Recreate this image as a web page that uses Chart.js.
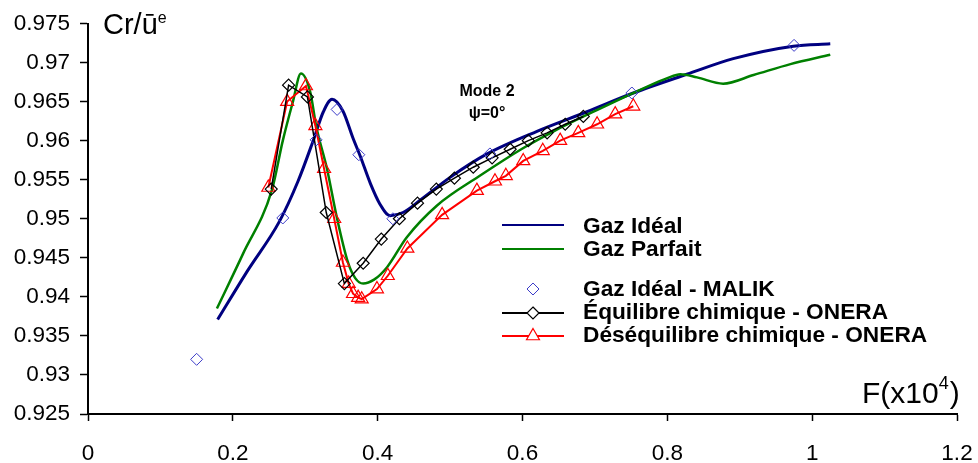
<!DOCTYPE html>
<html>
<head>
<meta charset="utf-8">
<title>Cr/ue vs F - Mode 2</title>
<script src="https://cdn.jsdelivr.net/npm/chart.js"></script>
<style>
  html, body { margin: 0; padding: 0; background: #fff; }
  #wrap { width: 978px; height: 463px; }
</style>
</head>
<body>
<div id="wrap"><canvas id="myChart"></canvas></div>
<script>
// Axis ticks
const xTicks = [0, 0.2, 0.4, 0.6, 0.8, 1, 1.2];
const xTickLabels = ['0', '0.2', '0.4', '0.6', '0.8', '1', '1.2'];
const yTicks = [0.925, 0.93, 0.935, 0.94, 0.945, 0.95, 0.955, 0.96, 0.965, 0.97, 0.975];
const yTickLabels = ['0.925', '0.93', '0.935', '0.94', '0.945', '0.95', '0.955', '0.96', '0.965', '0.97', '0.975'];

// Gaz Idéal (continuous curve)
const idealX = [0.179, 0.22, 0.264, 0.29, 0.311, 0.325, 0.337, 0.352, 0.366, 0.376, 0.39, 0.403, 0.417, 0.435, 0.459, 0.5, 0.551, 0.62, 0.689, 0.753, 0.827, 0.891, 0.974, 1.025];
const idealY = [0.9371, 0.9433, 0.9496, 0.9548, 0.9600, 0.9637, 0.9653, 0.9638, 0.9603, 0.9580, 0.9545, 0.9519, 0.9504, 0.9508, 0.9524, 0.9553, 0.9583, 0.9612, 0.9637, 0.9661, 0.9685, 0.9705, 0.9721, 0.9724];

// Gaz Parfait (continuous curve)
const parfaitX = [0.178, 0.214, 0.254, 0.269, 0.283, 0.294, 0.307, 0.315, 0.330, 0.344, 0.359, 0.369, 0.380, 0.395, 0.413, 0.440, 0.482, 0.541, 0.600, 0.643, 0.707, 0.767, 0.800, 0.818, 0.841, 0.877, 0.919, 0.970, 1.025];
const parfaitY = [0.9385, 0.9455, 0.9537, 0.9600, 0.9650, 0.9686, 0.9662, 0.9619, 0.9564, 0.9500, 0.9444, 0.9424, 0.9417, 0.9422, 0.9438, 0.9476, 0.9517, 0.9555, 0.9590, 0.9612, 0.9641, 0.9667, 0.9680, 0.9685, 0.9681, 0.9673, 0.9684, 0.9698, 0.9710];

// Gaz Idéal - MALIK (markers only)
const malikX = [0.150, 0.269, 0.315, 0.344, 0.374, 0.421, 0.555, 0.751, 0.975];
const malikY = [0.9320, 0.9501, 0.9601, 0.9640, 0.9582, 0.9500, 0.9583, 0.9661, 0.9722];

// Équilibre chimique - ONERA
const equiX = [0.253, 0.277, 0.303, 0.329, 0.354, 0.380, 0.405, 0.430, 0.455, 0.481, 0.506, 0.532, 0.558, 0.583, 0.608, 0.634, 0.659, 0.684];
const equiY = [0.9538, 0.9671, 0.9656, 0.9508, 0.9417, 0.9443, 0.9474, 0.9500, 0.9520, 0.9538, 0.9552, 0.9566, 0.9578, 0.9589, 0.9600, 0.9610, 0.9621, 0.9631];

// Déséquilibre chimique - ONERA
const deseqX = [0.249, 0.275, 0.301, 0.314, 0.326, 0.340, 0.352, 0.360, 0.366, 0.373, 0.378, 0.399, 0.414, 0.441, 0.489, 0.537, 0.562, 0.577, 0.601, 0.628, 0.652, 0.677, 0.703, 0.728, 0.753];
const deseqY = [0.9540, 0.9650, 0.9670, 0.9619, 0.9564, 0.9500, 0.9444, 0.9417, 0.9404, 0.9399, 0.9397, 0.9410, 0.9427, 0.9462, 0.9505, 0.9536, 0.9548, 0.9555, 0.9574, 0.9587, 0.9600, 0.9610, 0.9621, 0.9634, 0.9644];

const pts = (xs, ys) => xs.map((x, i) => ({ x: x, y: ys[i] }));
const FONT = '"Liberation Sans", Arial, sans-serif';

function drawMarker(ctx, style, x, y, r, color, lw) {
  ctx.save();
  ctx.strokeStyle = color;
  ctx.lineWidth = lw;
  ctx.beginPath();
  if (style === 'rectRot') {
    ctx.moveTo(x, y - r); ctx.lineTo(x + r, y); ctx.lineTo(x, y + r); ctx.lineTo(x - r, y);
  } else {
    ctx.moveTo(x, y - r);
    ctx.lineTo(x + r * 0.866, y + r / 2);
    ctx.lineTo(x - r * 0.866, y + r / 2);
  }
  ctx.closePath();
  ctx.fillStyle = '#fff';
  ctx.fill();
  ctx.stroke();
  ctx.restore();
}

const extras = {
  id: 'extras',
  afterDraw(chart) {
    const ctx = chart.ctx;
    ctx.save();
    ctx.fillStyle = '#000';
    ctx.textBaseline = 'alphabetic';
    ctx.textAlign = 'left';

    // y title
    ctx.font = '29px ' + FONT;
    ctx.fillText('Cr/ū', 103, 34);
    let w = ctx.measureText('Cr/ū').width;
    ctx.font = '16px ' + FONT;
    ctx.fillText('e', 103 + w, 23);

    // x title
    ctx.font = '30px ' + FONT;
    ctx.fillText('F(x10', 862, 403);
    w = ctx.measureText('F(x10').width;
    ctx.font = '18px ' + FONT;
    ctx.fillText('4', 862 + w, 389);
    const w4 = ctx.measureText('4').width;
    ctx.font = '30px ' + FONT;
    ctx.fillText(')', 862 + w + w4 + 1, 403);

    // annotation
    ctx.font = 'bold 16px ' + FONT;
    ctx.textAlign = 'center';
    ctx.fillText('Mode 2', 487, 96);
    ctx.fillText('ψ=0°', 487, 118);

    // legend
    ctx.textAlign = 'left';
    ctx.font = 'bold 22.7px ' + FONT;
    const rows = [
      { ds: 1, base: 233, sy: 225 },
      { ds: 0, base: 256, sy: 249 },
      { ds: 2, base: 296, sy: 289 },
      { ds: 3, base: 319, sy: 313 },
      { ds: 4, base: 342, sy: 336 }
    ];
    rows.forEach(r => {
      const d = chart.data.datasets[r.ds];
      if (d.showLine) {
        ctx.strokeStyle = d.borderColor;
        ctx.lineWidth = 2;
        ctx.beginPath();
        ctx.moveTo(502, r.sy);
        ctx.lineTo(564, r.sy);
        ctx.stroke();
      }
      if (d.pointRadius > 0) {
        drawMarker(ctx, d.pointStyle, 533, r.sy, d.pointRadius, d.pointBorderColor, d.pointBorderWidth);
      }
      ctx.fillStyle = '#000';
      ctx.fillText(d.label, 583, r.base);
    });
    ctx.restore();
  }
};

const ctx = document.getElementById('myChart').getContext('2d');
new Chart(ctx, {
  type: 'scatter',
  data: {
    datasets: [
      {
        label: 'Gaz Parfait',
        data: pts(parfaitX, parfaitY),
        showLine: true,
        borderColor: '#008000',
        borderWidth: 2.5,
        pointRadius: 0,
        cubicInterpolationMode: 'monotone',
        order: 4
      },
      {
        label: 'Gaz Idéal',
        data: pts(idealX, idealY),
        showLine: true,
        borderColor: '#000080',
        borderWidth: 3,
        pointRadius: 0,
        cubicInterpolationMode: 'monotone',
        order: 5
      },
      {
        label: 'Gaz Idéal - MALIK',
        data: pts(malikX, malikY),
        showLine: false,
        pointStyle: 'rectRot',
        pointRadius: 6,
        pointBorderColor: '#3c3cc8',
        pointBackgroundColor: 'rgba(0,0,0,0)',
        pointBorderWidth: 1,
        borderColor: '#3c3cc8',
        order: 1
      },
      {
        label: 'Équilibre chimique - ONERA',
        data: pts(equiX, equiY),
        showLine: true,
        borderColor: '#000',
        borderWidth: 1.5,
        pointStyle: 'rectRot',
        pointRadius: 6,
        pointBorderColor: '#000',
        pointBackgroundColor: 'rgba(0,0,0,0)',
        pointBorderWidth: 1.2,
        tension: 0,
        order: 2
      },
      {
        label: 'Déséquilibre chimique - ONERA',
        data: pts(deseqX, deseqY),
        showLine: true,
        borderColor: '#ff0000',
        borderWidth: 2,
        pointStyle: 'triangle',
        pointRadius: 7.5,
        pointBorderColor: '#ff0000',
        pointBackgroundColor: 'rgba(0,0,0,0)',
        pointBorderWidth: 1.2,
        tension: 0,
        order: 3
      }
    ]
  },
  options: {
    responsive: true,
    maintainAspectRatio: false,
    animation: false,
    devicePixelRatio: 1,
    layout: { padding: { top: 22, right: 21, bottom: 0, left: 0 } },
    plugins: {
      legend: { display: false },
      tooltip: { enabled: false }
    },
    scales: {
      x: {
        type: 'linear',
        min: 0,
        max: 1.2,
        afterBuildTicks: s => { s.ticks = xTicks.map(v => ({ value: v })); },
        afterFit: s => { s.height = 49; s.paddingLeft = 0; s.paddingRight = 0; },
        border: { display: true, color: '#000', width: 2 },
        grid: { drawOnChartArea: false, drawTicks: true, tickLength: 7, tickColor: '#000', tickWidth: 1.5 },
        ticks: {
          color: '#000',
          font: { family: FONT, size: 22.5 },
          padding: 19,
          maxRotation: 0,
          callback: (v, i) => xTickLabels[i]
        }
      },
      y: {
        type: 'linear',
        min: 0.925,
        max: 0.975,
        afterBuildTicks: s => { s.ticks = yTicks.map(v => ({ value: v })); },
        afterFit: s => { s.width = 88; },
        border: { display: true, color: '#000', width: 2 },
        grid: { drawOnChartArea: false, drawTicks: true, tickLength: 8, tickColor: '#000', tickWidth: 1.5 },
        ticks: {
          color: '#000',
          font: { family: FONT, size: 22.5 },
          padding: 10,
          callback: (v, i) => yTickLabels[i]
        }
      }
    }
  },
  plugins: [extras]
});
</script>
</body>
</html>
